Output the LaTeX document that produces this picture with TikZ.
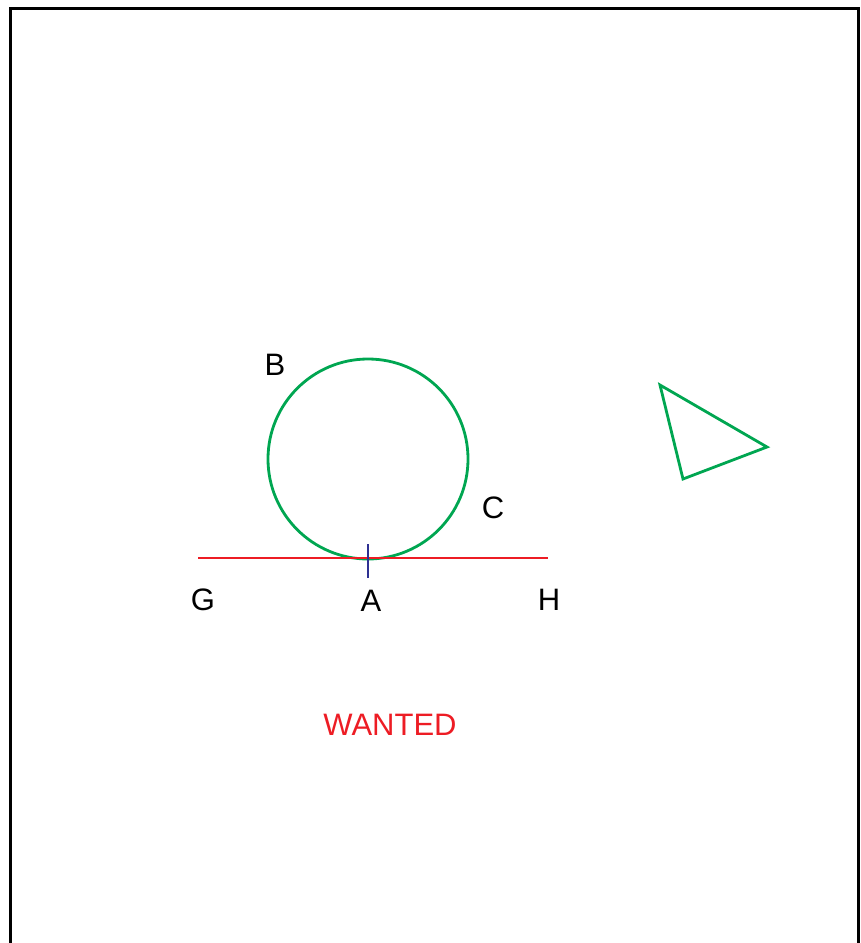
\documentclass[tikz,border=0pt]{standalone}
\usepackage{fontspec}
\setmainfont{Liberation Sans}
\definecolor{myred}{RGB}{237,28,36}
\definecolor{mygreen}{RGB}{0,166,81}
\definecolor{myblue}{RGB}{46,49,146}
\begin{document}
\begin{tikzpicture}[x=1pt,y=-1pt,
  lbl/.style={font=\fontsize{31}{37}\selectfont, inner sep=0pt, anchor=center},
  ln/.style={line width=2.8pt}]
\useasboundingbox (0,0) rectangle (860,943);
\draw[line width=3pt] (10,8) rectangle (858,945);
\node[circle, draw=mygreen, ln, minimum size=200pt, inner sep=0pt] (circ) at (368,459) {};
\coordinate (g) at (198,558);
\coordinate (h) at (548,558);
\draw[myred, ln] (g) -- (h);
\coordinate (t1) at (368,544);
\coordinate (t2) at (368,578);
\draw[myblue, ln] (t1) -- (t2);
\coordinate (p1) at (660,385);
\coordinate (p2) at (767,447);
\coordinate (p3) at (683,479);
\draw[mygreen, ln, line join=miter] (p1) -- (p2) -- (p3) -- cycle;
\node[lbl] (B) at (275,365) {B};
\node[lbl] (C) at (493,508) {C};
\node[lbl] (G) at (203,600) {G};
\node[lbl] (A) at (371,601) {A};
\node[lbl] (H) at (549,600) {H};
\node[lbl, text=myred] (W) at (390,725) {WANTED};
\end{tikzpicture}
\end{document}
